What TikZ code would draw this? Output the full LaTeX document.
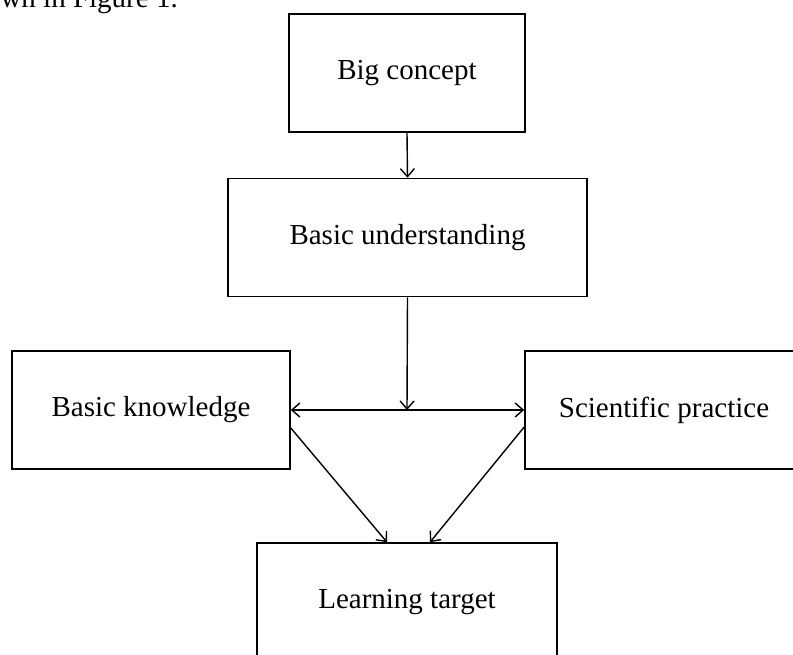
\documentclass[tikz,border=0pt]{standalone}
\usepackage{fontspec}
\setmainfont{Liberation Serif}
\usetikzlibrary{arrows.meta, positioning, calc}

\begin{document}
\begin{tikzpicture}[
    x=1pt, y=-1pt,
    font=\fontsize{29}{34}\selectfont,
    >={Straight Barb[length=8pt, width=14pt]},
    block/.style={draw, line width=1.6pt, minimum width=#1,
                  minimum height=118pt, inner sep=0pt, align=center},
    link/.style={line width=1.4pt, ->},
  ]
    \useasboundingbox (0,0) rectangle (793,655);
    \clip (0,0) rectangle (793,655);
    \node[anchor=base west] (caption) at (-3,8) {wn in Figure 1.};
    \node[block=236pt] (big) at (407,73) {Big concept};
    \node[block=359pt] (under) at (407.5,237.5) {Basic understanding};
    \node[block=278pt] (know) at (151,410) {Basic knowledge};
    \node[block=278pt] (sci) at (664,410) {Scientific practice};
    \node[block=300pt] (target) at (407,602) {Learning target};
    \coordinate (meet) at (407,410);
    \draw[link] (big.south) -- (under.north);
    \draw[link] (under.south) -- (meet);
    \draw[link, <->] (know.east) -- (sci.west);
    \draw[link] ($(know.east)+(0,18)$) -- ($(target.north)+(-20,0)$);
    \draw[link] ($(sci.west)+(0,17)$) -- ($(target.north)+(23,0)$);
  \end{tikzpicture}
\end{document}
